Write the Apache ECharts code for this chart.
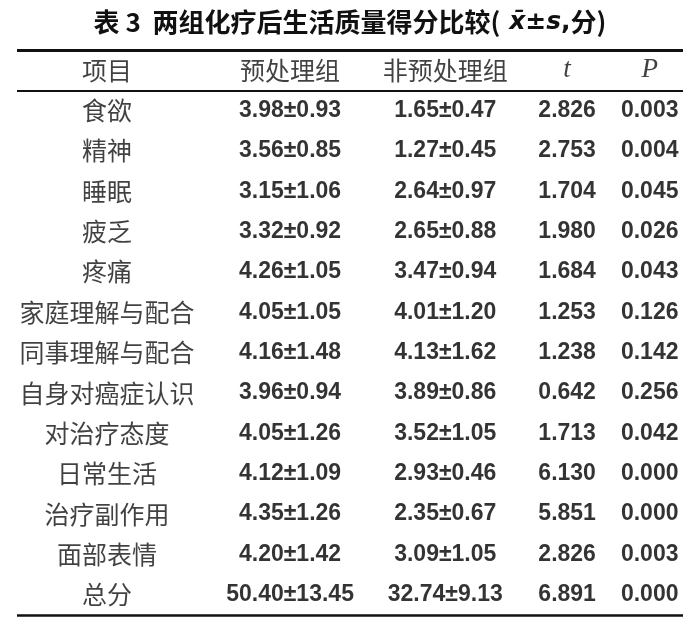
<!DOCTYPE html>
<html>
<head>
<meta charset="utf-8">
<script src="https://cdn.jsdelivr.net/npm/echarts@6/dist/echarts.min.js"></script>
<style>
  html, body { margin: 0; padding: 0; background: #fff; }
  #table-chart { width: 700px; height: 630px; }
</style>
</head>
<body>
<div id="table-chart"></div>
<script>
// 表格数据
var headers = ['项目', '预处理组', '非预处理组', 't', 'P'];
var items = ['食欲', '精神', '睡眠', '疲乏', '疼痛', '家庭理解与配合', '同事理解与配合',
             '自身对癌症认识', '对治疗态度', '日常生活', '治疗副作用', '面部表情', '总分'];
var preMean = [3.98, 3.56, 3.15, 3.32, 4.26, 4.05, 4.16, 3.96, 4.05, 4.12, 4.35, 4.20, 50.40];
var preSd   = [0.93, 0.85, 1.06, 0.92, 1.05, 1.05, 1.48, 0.94, 1.26, 1.09, 1.26, 1.42, 13.45];
var nonMean = [1.65, 1.27, 2.64, 2.65, 3.47, 4.01, 4.13, 3.89, 3.52, 2.93, 2.35, 3.09, 32.74];
var nonSd   = [0.47, 0.45, 0.97, 0.88, 0.94, 1.20, 1.62, 0.86, 1.05, 0.46, 0.67, 1.05, 9.13];
var tVals   = [2.826, 2.753, 1.704, 1.980, 1.684, 1.253, 1.238, 0.642, 1.713, 6.130, 5.851, 2.826, 6.891];
var pVals   = [0.003, 0.004, 0.045, 0.026, 0.043, 0.126, 0.142, 0.256, 0.042, 0.000, 0.000, 0.003, 0.000];

// 列中心位置 (占表格宽度的百分比)
var colX = [13.5, 41.0, 64.3, 82.6, 95.0];

var cjkFont = '"Noto Sans CJK SC", sans-serif';
var numFont = '"Liberation Sans", Arial, sans-serif';
var serifFont = '"Liberation Serif", "DejaVu Serif", serif';

function cell(col, row, text) {
    return [colX[col], row + 0.5, text];
}

var headerData = headers.map(function (h, j) {
    var d = { value: cell(j, 0, h) };
    if (j >= 3) {
        d.label = { fontFamily: serifFont, fontStyle: 'italic', fontSize: 27 };
    }
    return d;
});

function column(j, fn) {
    return items.map(function (it, i) { return cell(j, i + 1, fn(i)); });
}

var baseLabel = {
    show: true,
    position: 'inside',
    color: '#111',
    textBorderWidth: 0,
    formatter: function (p) { return p.value[2]; }
};

var numLabel = { fontFamily: numFont, fontWeight: 'bold', fontSize: 23, color: '#000' };

function textSeries(name, data, label) {
    return {
        name: name,
        type: 'scatter',
        symbolSize: 1,
        itemStyle: { color: 'rgba(0,0,0,0)' },
        silent: true,
        labelLayout: { hideOverlap: false },
        data: data,
        label: Object.assign({}, baseLabel, label)
    };
}

var chart = echarts.init(document.getElementById('table-chart'));
var option = {
    animation: false,
    title: {
        text: '{a|表 3  两组化疗后生活质量得分比较(}{b| x̄±s}{c|,}{a|分)}',
        left: 'center',
        top: 4,
        textStyle: {
            rich: {
                a: { fontFamily: cjkFont, fontWeight: 'bold', fontSize: 26, color: '#111' },
                b: { fontFamily: '"DejaVu Sans", sans-serif', fontStyle: 'italic', fontSize: 25, color: '#111' },
                c: { fontFamily: '"DejaVu Sans", sans-serif', fontWeight: 'bold', fontSize: 25, color: '#111' }
            }
        }
    },
    grid: { left: 17, right: 17, top: 50, bottom: 15 },
    xAxis: { type: 'value', min: 0, max: 100, show: false },
    yAxis: { type: 'value', min: 0, max: 14, inverse: true, show: false },
    series: [
        Object.assign(textSeries('header', headerData, {
            fontFamily: cjkFont, fontSize: 25
        }), {
            markLine: {
                silent: true,
                symbol: ['none', 'none'],
                label: { show: false },
                lineStyle: { color: '#111', type: 'solid' },
                data: [
                    { yAxis: 0, lineStyle: { width: 3 } },
                    { yAxis: 1, lineStyle: { width: 2 } },
                    { yAxis: 14, lineStyle: { width: 2.5 } }
                ]
            }
        }),
        textSeries('项目', column(0, function (i) { return items[i]; }),
            { fontFamily: cjkFont, fontSize: 25 }),
        textSeries('预处理组', column(1, function (i) { return preMean[i].toFixed(2) + '±' + preSd[i].toFixed(2); }), numLabel),
        textSeries('非预处理组', column(2, function (i) { return nonMean[i].toFixed(2) + '±' + nonSd[i].toFixed(2); }), numLabel),
        textSeries('t', column(3, function (i) { return tVals[i].toFixed(3); }), numLabel),
        textSeries('P', column(4, function (i) { return pVals[i].toFixed(3); }), numLabel)
    ]
};
chart.setOption(option);
window.addEventListener('resize', chart.resize);
</script>
</body>
</html>
